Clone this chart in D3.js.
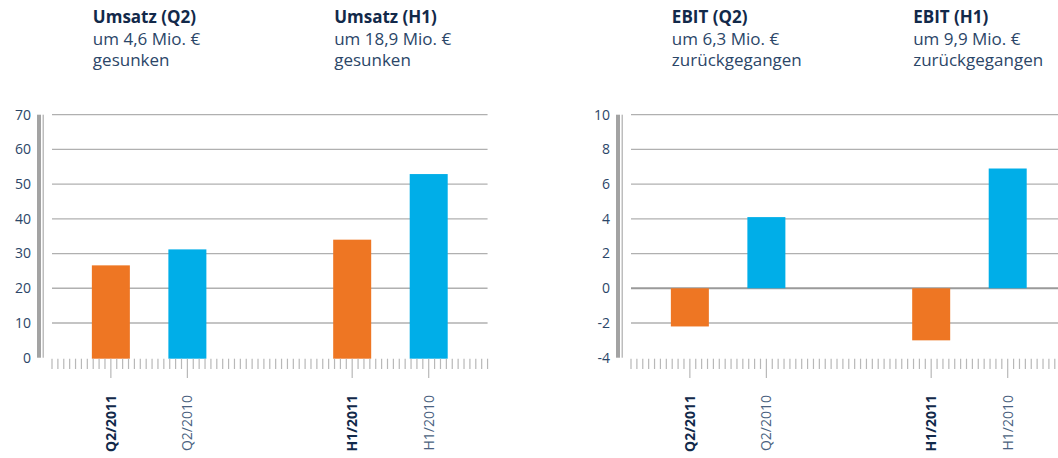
<!DOCTYPE html>
<meta charset="utf-8">
<style>
body { margin: 0; background: #fff; }
text { font-family: "Open Sans", sans-serif; }
.ylab { font-size: 14px; fill: #2b4668; }
.xlab { font-size: 14px; fill: #4a6280; }
.xlab.cur { font-weight: bold; fill: #12294a; }
.title { font-size: 17px; font-weight: bold; fill: #12294a; }
.sub { font-size: 17px; fill: #2b4668; }
</style>
<svg width="1058" height="458"></svg>
<script src="https://d3js.org/d3.v7.min.js"></script>
<script>

var categories = ["Q2/2011", "Q2/2010", "H1/2011", "H1/2010"];
var umsatz = [26.6, 31.2, 34.0, 52.9];
var ebit = [-2.2, 4.1, -3.0, 6.9];

var umsatzTicks = [0, 10, 20, 30, 40, 50, 60, 70];
var ebitTicks = [-4, -2, 0, 2, 4, 6, 8, 10];

var titles = ["Umsatz (Q2)", "Umsatz (H1)", "EBIT (Q2)", "EBIT (H1)"];
var subs1 = ["um 4,6 Mio. €", "um 18,9 Mio. €", "um 6,3 Mio. €", "um 9,9 Mio. €"];
var subs2 = ["gesunken", "gesunken", "zurückgegangen", "zurückgegangen"];

var orange = "#ee7623", blue = "#00aee8";

var svg = d3.select("svg");

// slot positions of the bars on the minor-tick axis (two groups of two)
var slots = [10, 23, 51, 64];
var nSlots = 74, barW = 38;
var yTop = 114.7, yBottom = 357.7;

function chart(ox, values, domain, ticks, zeroLine) {
  var g = svg.append("g");
  var x = d3.scaleLinear().domain([0, nSlots]).range([ox, ox + nSlots * 5.886]);
  var y = d3.scaleLinear().domain(domain).range([yBottom, yTop]);

  // gridlines
  g.selectAll(".grid")
    .data(ticks.filter(function(t) { return t !== domain[0]; }))
    .enter().append("line")
      .attr("x1", x(0)).attr("x2", x(nSlots))
      .attr("y1", function(d) { return y(d); })
      .attr("y2", function(d) { return y(d); })
      .attr("stroke", function(d) { return zeroLine && d === 0 ? "#9a9a9a" : "#b0b0b0"; })
      .attr("stroke-width", function(d) { return zeroLine && d === 0 ? 2.2 : 1.3; });

  // double axis bar
  g.append("rect").attr("x", ox - 15).attr("y", yTop).attr("width", 4)
    .attr("height", yBottom - yTop).attr("fill", "#a3a3a3");
  g.append("rect").attr("x", ox - 9.5).attr("y", yTop).attr("width", 1.5)
    .attr("height", yBottom - yTop).attr("fill", "#bdbdbd");

  // y labels
  g.selectAll(".ylab")
    .data(ticks)
    .enter().append("text")
      .attr("class", "ylab")
      .attr("x", ox - 21)
      .attr("y", function(d) { return y(d); })
      .attr("dy", "0.35em")
      .attr("text-anchor", "end")
      .text(function(d) { return d; });

  // bars
  g.selectAll(".bar")
    .data(values)
    .enter().append("rect")
      .attr("x", function(d, i) { return x(slots[i]) - barW / 2; })
      .attr("width", barW)
      .attr("y", function(d) { return y(Math.max(0, d)); })
      .attr("height", function(d) { return Math.abs(y(d) - y(0)) + (domain[0] === 0 ? 1 : 0); })
      .attr("fill", function(d, i) { return i % 2 === 0 ? orange : blue; });

  // minor ticks
  g.selectAll(".tick")
    .data(d3.range(nSlots + 1))
    .enter().append("line")
      .attr("x1", function(d) { return x(d); })
      .attr("x2", function(d) { return x(d); })
      .attr("y1", yBottom + 1)
      .attr("y2", function(d) { return slots.indexOf(d) >= 0 ? 378 : 369; })
      .attr("stroke", "#b8b8b8")
      .attr("stroke-width", 1.2);

  // category labels
  g.selectAll(".xlab")
    .data(categories)
    .enter().append("text")
      .attr("class", function(d, i) { return i % 2 === 0 ? "xlab cur" : "xlab"; })
      .attr("text-anchor", "end")
      .attr("dy", "0.35em")
      .attr("transform", function(d, i) { return "translate(" + x(slots[i]) + ",395) rotate(-90)"; })
      .text(function(d) { return d; });

  return x;
}

var xl = chart(52, umsatz, [0, 70], umsatzTicks, false);
var xr = chart(631, ebit, [-4, 10], ebitTicks, true);

var titleX = [xl(slots[0]), xl(slots[2]), xr(slots[0]), xr(slots[2])].map(function(v) { return v - barW / 2 + 1; });

var tg = svg.selectAll(".head")
  .data(titles)
  .enter().append("g")
    .attr("transform", function(d, i) { return "translate(" + titleX[i] + ",0)"; });

tg.append("text").attr("class", "title").attr("y", 23).text(function(d) { return d; });
tg.append("text").attr("class", "sub").attr("y", 45).text(function(d, i) { return subs1[i]; });
tg.append("text").attr("class", "sub").attr("y", 66).text(function(d, i) { return subs2[i]; });

</script>
